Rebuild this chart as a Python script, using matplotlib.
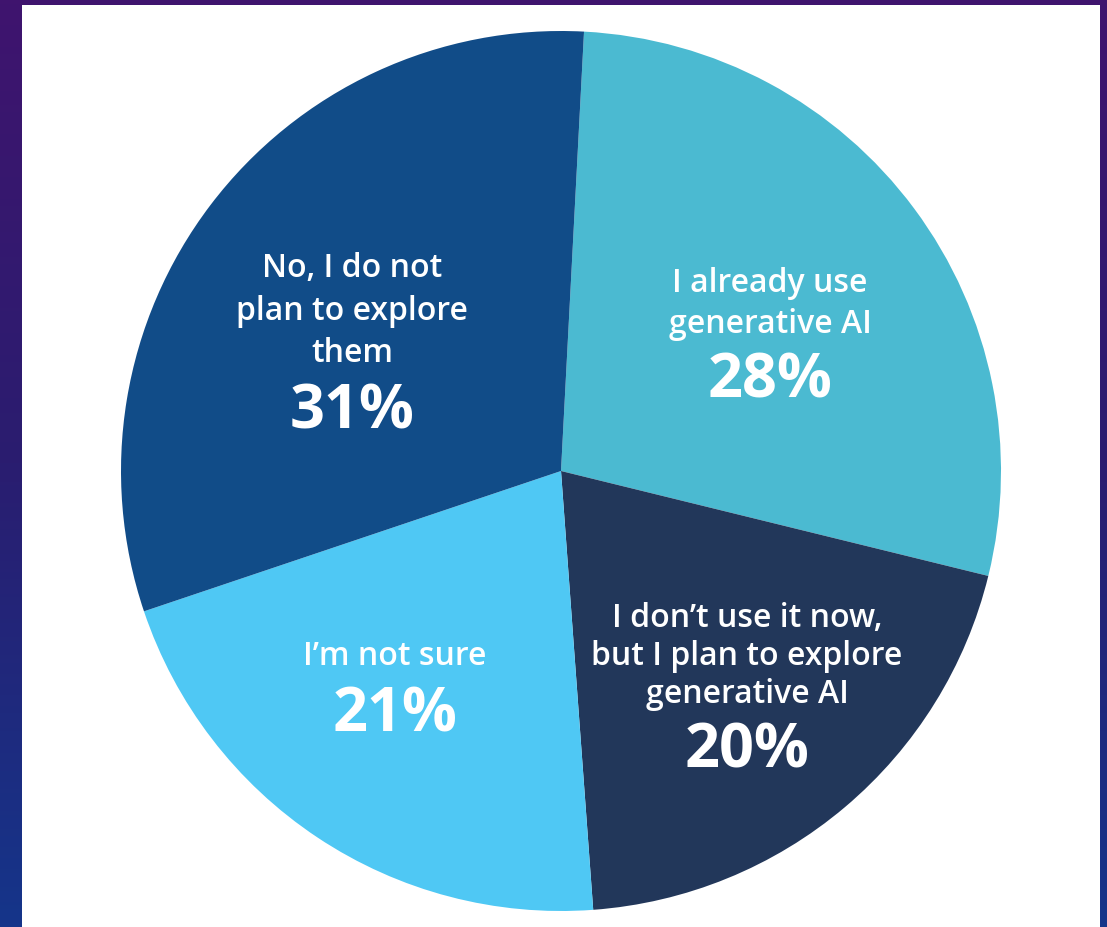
import numpy as np
import matplotlib
matplotlib.use("Agg")
import matplotlib.pyplot as plt
from matplotlib.colors import LinearSegmentedColormap

# Survey answers, clockwise from the top
categories = [
    "I already use\ngenerative AI",
    "I don\u2019t use it now,\nbut I plan to explore\ngenerative AI",
    "I\u2019m not sure",
    "No, I do not\nplan to explore\nthem",
]
shares = [28, 20, 21, 31]
colors = ["#4bbad1", "#22375a", "#4fc8f4", "#114c88"]

W, H = 1107, 927
fig = plt.figure(figsize=(W / 100, H / 100), dpi=100)

# Backdrop: purple-to-blue gradient behind a white card
bg = fig.add_axes([0, 0, 1, 1])
bg.set_axis_off()
grad = np.linspace(0, 1, 256).reshape(-1, 1)
cmap = LinearSegmentedColormap.from_list("bg", ["#3f146e", "#2a1d70", "#15358a"])
bg.imshow(grad, aspect="auto", cmap=cmap, extent=[0, W, H, 0])
bg.set_xlim(0, W)
bg.set_ylim(H, 0)
bg.add_patch(plt.Rectangle((22, 5), 1078, H, facecolor="white", edgecolor="none"))

# Pie drawn in pixel-like coordinates (y grows upward)
ax = fig.add_axes([0, 0, 1, 1])
ax.set_axis_off()
cx, cy, r = 561, H - 471, 440
ax.pie(shares, colors=colors, startangle=87, counterclock=False,
       center=(cx, cy), radius=r, frame=True,
       wedgeprops=dict(linewidth=0, antialiased=True))
ax.set_xlim(0, W)
ax.set_ylim(0, H)
ax.set_aspect("auto")
ax.set_axis_off()

font = "Open Sans"
# label anchor: (center x, first baseline y, line gap, percent baseline y)
anchors = [
    (770, 292, 41, 397),
    (747, 627, 38, 768),
    (395, 665, 0, 732),
    (352, 277, 42.5, 428),
]
for label, share, (x, y0, gap, yp) in zip(categories, shares, anchors):
    for i, line in enumerate(label.split("\n")):
        ax.text(x, H - (y0 + i * gap), line, ha="center", va="baseline",
                color="white", fontsize=23, fontfamily=font, fontweight="semibold")
    ax.text(x, H - yp, f"{share}%", ha="center", va="baseline",
            color="white", fontsize=44, fontfamily=font, fontweight="bold")

fig.savefig("out.png", dpi=100)
